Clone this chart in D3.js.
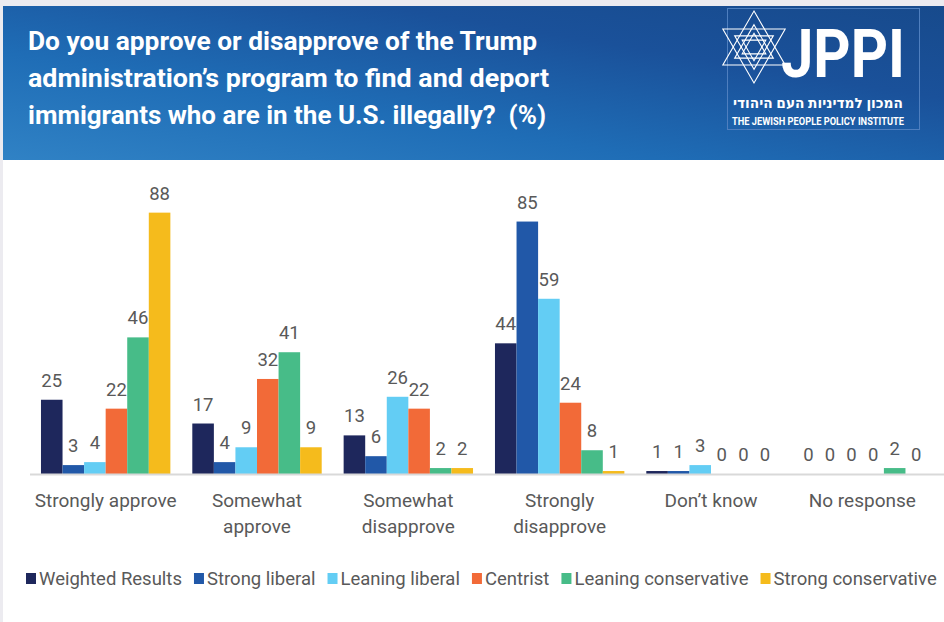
<!DOCTYPE html>
<html>
<head>
<meta charset="utf-8">
<script src="https://cdn.jsdelivr.net/npm/d3@7"></script>
<style>
  html, body { margin: 0; padding: 0; background: #ecebf0; }
  svg { display: block; }
  .pre { white-space: pre; }
</style>
</head>
<body>
<svg id="chart" width="944" height="622"></svg>
<script>
// Survey answers (x categories)
const categories = [
  ["Strongly approve"],
  ["Somewhat", "approve"],
  ["Somewhat", "disapprove"],
  ["Strongly", "disapprove"],
  ["Don\u2019t know"],
  ["No response"]
];
// Respondent groups (series)
const seriesNames = ["Weighted Results", "Strong liberal", "Leaning liberal", "Centrist", "Leaning conservative", "Strong conservative"];
const seriesColors = ["#1e275c", "#2158a8", "#63cdf4", "#f26a38", "#47bc88", "#f5bb1c"];
// Percentages per series, in category order
const weighted      = [25, 17, 13, 44, 1, 0];
const strongLib     = [3, 4, 6, 85, 1, 0];
const leaningLib    = [4, 9, 26, 59, 3, 0];
const centrist      = [22, 32, 22, 24, 0, 0];
const leaningCons   = [46, 41, 2, 8, 0, 2];
const strongCons    = [88, 9, 2, 1, 0, 0];
const seriesValues = [weighted, strongLib, leaningLib, centrist, leaningCons, strongCons];

const titleLines = [
  "Do you approve or disapprove of the Trump",
  "administration\u2019s program to find and deport",
  "immigrants who are in the U.S. illegally?  (%)"
];

const W = 944, H = 622;
const svg = d3.select("#chart");

// page background panel
svg.append("rect").attr("x", 3).attr("y", 6).attr("width", W - 3).attr("height", H - 6).attr("fill", "#ffffff");

// header band with diagonal gradient
const defs = svg.append("defs");
const grad = defs.append("linearGradient").attr("id", "hdr")
  .attr("x1", "0%").attr("y1", "100%").attr("x2", "100%").attr("y2", "0%");
grad.append("stop").attr("offset", "0%").attr("stop-color", "#3082c5");
grad.append("stop").attr("offset", "35%").attr("stop-color", "#1f6db6");
grad.append("stop").attr("offset", "70%").attr("stop-color", "#1a519a");
grad.append("stop").attr("offset", "100%").attr("stop-color", "#174a8c");
svg.append("rect").attr("x", 3).attr("y", 6).attr("width", W - 3).attr("height", 154).attr("fill", "url(#hdr)");

// title
const title = svg.append("g").attr("fill", "#ffffff")
  .attr("font-family", "Roboto, 'Open Sans', sans-serif").attr("font-weight", 700).attr("font-size", 25);
const titleWidths = [509, 521, 518];
titleLines.forEach((t, i) => {
  title.append("text").attr("class", "pre").attr("x", 28).attr("y", 50 + i * 37)
    .attr("textLength", titleWidths[i]).attr("lengthAdjust", "spacingAndGlyphs").text(t);
});

// logo
const logo = svg.append("g");
logo.append("rect").attr("x", 727.5).attr("y", 8.5).attr("width", 192).attr("height", 121)
  .attr("fill", "none").attr("stroke", "#4f7fbf").attr("stroke-width", 1);
const star = logo.append("g").attr("fill", "none").attr("stroke", "#ffffff").attr("stroke-width", 1.1);
const cx = 754, cy = 47, R = 36;
function tri(r, up) {
  const pts = [0, 1, 2].map(k => {
    const a = (up ? -Math.PI / 2 : Math.PI / 2) + k * 2 * Math.PI / 3;
    return [cx + r * Math.cos(a), cy + r * Math.sin(a)];
  });
  return "M" + pts.map(p => p.join(",")).join("L") + "Z";
}
[R, R * 0.62, R * 0.38].forEach(r => {
  star.append("path").attr("d", tri(r, true));
  star.append("path").attr("d", tri(r, false));
});
logo.append("text").attr("x", 781).attr("y", 77).attr("fill", "#ffffff")
  .attr("font-family", "Roboto, sans-serif").attr("font-weight", 700).attr("font-size", 66)
  .attr("textLength", 124).attr("lengthAdjust", "spacingAndGlyphs").text("JPPI");
logo.append("text").attr("x", 818).attr("y", 108).attr("fill", "#ffffff").attr("text-anchor", "middle")
  .attr("font-family", "'Noto Sans', 'DejaVu Sans', sans-serif").attr("font-weight", 700).attr("font-size", 14)
  .attr("direction", "rtl").attr("textLength", 170).attr("lengthAdjust", "spacingAndGlyphs")
  .text("\u05D4\u05DE\u05DB\u05D5\u05DF \u05DC\u05DE\u05D3\u05D9\u05E0\u05D9\u05D5\u05EA \u05D4\u05E2\u05DD \u05D4\u05D9\u05D4\u05D5\u05D3\u05D9");
logo.append("text").attr("x", 732).attr("y", 125).attr("fill", "#ffffff")
  .attr("font-family", "Roboto, sans-serif").attr("font-weight", 700).attr("font-size", 10.5)
  .attr("textLength", 172).attr("lengthAdjust", "spacingAndGlyphs").text("THE JEWISH PEOPLE POLICY INSTITUTE");

// scales
const x0 = d3.scaleBand().domain(d3.range(categories.length)).range([30, 938]).paddingInner(0.145).paddingOuter(0.0725);
const x1 = d3.scaleBand().domain(d3.range(seriesNames.length)).range([0, x0.bandwidth()]);
const y = d3.scaleLinear().domain([0, 100]).range([474, 177]);

// bars
const plot = svg.append("g");
seriesValues.forEach((vals, s) => {
  plot.selectAll(null).data(vals).join("rect")
    .attr("x", (d, i) => x0(i) + x1(s))
    .attr("y", d => y(d))
    .attr("width", x1.bandwidth())
    .attr("height", d => y(0) - y(d))
    .attr("fill", seriesColors[s]);
});

// axis baseline
svg.append("line").attr("x1", 30).attr("x2", W).attr("y1", 474.5).attr("y2", 474.5)
  .attr("stroke", "#d9d9d9").attr("stroke-width", 2);

// value labels
const labels = svg.append("g").attr("font-family", "Roboto, sans-serif").attr("font-size", 18.5)
  .attr("fill", "#595959").attr("text-anchor", "middle");
seriesValues.forEach((vals, s) => {
  labels.selectAll(null).data(vals).join("text")
    .attr("x", (d, i) => x0(i) + x1(s) + x1.bandwidth() / 2)
    .attr("y", d => y(d) - 13)
    .text(d => d);
});

// category labels
const cat = svg.append("g").attr("font-family", "Roboto, sans-serif").attr("font-size", 19)
  .attr("fill", "#595959").attr("text-anchor", "middle");
categories.forEach((lines, i) => {
  lines.forEach((ln, j) => {
    cat.append("text").attr("x", x0(i) + x0.bandwidth() / 2).attr("y", 507 + j * 26).text(ln);
  });
});

// legend
const legend = svg.append("g").attr("font-family", "Roboto, sans-serif").attr("font-size", 18.5).attr("fill", "#595959");
let lx = 26;
seriesNames.forEach((name, s) => {
  legend.append("rect").attr("x", lx).attr("y", 573).attr("width", 10).attr("height", 11).attr("fill", seriesColors[s]);
  const t = legend.append("text").attr("x", lx + 13).attr("y", 585).text(name);
  lx += 13 + t.node().getComputedTextLength() + 12;
});
</script>
</body>
</html>
